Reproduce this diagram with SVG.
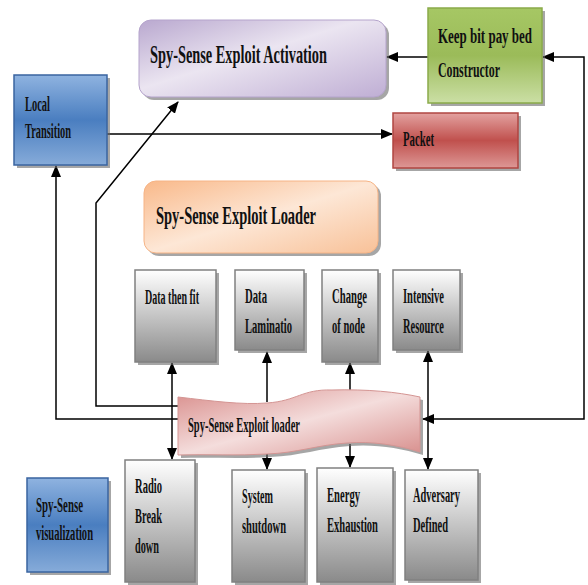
<svg xmlns="http://www.w3.org/2000/svg" width="588" height="585" viewBox="0 0 588 585">
<defs>
<style>
.t{font-family:"Liberation Serif","Times New Roman",serif;font-weight:bold;fill:#111}
.s20{font-size:20px}.s22{font-size:22px}.s26{font-size:26px}
.ln{fill:none;stroke:#000;stroke-width:1.5}
.sh{fill:#6b6b6b;opacity:0.6}
.gray{fill:url(#gGray);stroke:#808080;stroke-width:1.5}
</style>
<linearGradient id="gGray" x1="0" y1="0" x2="0" y2="1"><stop offset="0" stop-color="#ffffff"/><stop offset="1" stop-color="#8a8a8a"/></linearGradient>
<linearGradient id="gBlue" x1="0" y1="0" x2="0" y2="1"><stop offset="0" stop-color="#8fb3e0"/><stop offset="0.5" stop-color="#4a7ec0"/><stop offset="1" stop-color="#86abd9"/></linearGradient>
<linearGradient id="gGreen" x1="0" y1="0" x2="0" y2="1"><stop offset="0" stop-color="#a6c764"/><stop offset="0.5" stop-color="#9bbb59"/><stop offset="1" stop-color="#cbdfa5"/></linearGradient>
<linearGradient id="gRed" x1="0" y1="0" x2="0" y2="1"><stop offset="0" stop-color="#e3a2a0"/><stop offset="0.5" stop-color="#c0504d"/><stop offset="1" stop-color="#dd9896"/></linearGradient>
<linearGradient id="gPurple" x1="0" y1="0" x2="1" y2="1"><stop offset="0" stop-color="#b9a8cf"/><stop offset="0.45" stop-color="#ebe5f1"/><stop offset="1" stop-color="#bfaed4"/></linearGradient>
<linearGradient id="gOrange" x1="0" y1="0" x2="1" y2="1"><stop offset="0" stop-color="#f9b98a"/><stop offset="0.5" stop-color="#fde7d6"/><stop offset="1" stop-color="#f8c198"/></linearGradient>
<linearGradient id="gPink" x1="0" y1="0" x2="1" y2="1"><stop offset="0" stop-color="#d98e8c"/><stop offset="0.5" stop-color="#f4dddc"/><stop offset="1" stop-color="#d88f8d"/></linearGradient>
<marker id="ah" viewBox="0 0 12 10" refX="11" refY="5" markerWidth="12" markerHeight="10" markerUnits="userSpaceOnUse" orient="auto-start-reverse"><path d="M0,0 L12,5 L0,10 Z" fill="#000"/></marker>
</defs>

<g id="connectors">
<line class="ln" x1="107" y1="134" x2="392" y2="134" stroke-width="2" marker-end="url(#ah)"/>
<line class="ln" x1="428" y1="57" x2="387" y2="57" marker-end="url(#ah)"/>
<path class="ln" d="M423,419 H584 V57 H543" marker-start="url(#ah)" marker-end="url(#ah)"/>
<path class="ln" d="M180,419 H56 V166" marker-end="url(#ah)"/>
<path class="ln" d="M180,406 H96 V203 L178,102" marker-end="url(#ah)"/>
<line class="ln" x1="172" y1="363" x2="172" y2="459" marker-start="url(#ah)" marker-end="url(#ah)"/>
<line class="ln" x1="267" y1="402" x2="267" y2="352" marker-end="url(#ah)"/>
<line class="ln" x1="267" y1="451" x2="267" y2="469" marker-end="url(#ah)"/>
<line class="ln" x1="350" y1="391" x2="350" y2="363" marker-end="url(#ah)"/>
<line class="ln" x1="350" y1="444" x2="350" y2="467" marker-end="url(#ah)"/>
<line class="ln" x1="428" y1="351" x2="428" y2="469" marker-start="url(#ah)" marker-end="url(#ah)"/>
</g>

<g id="activation">
<rect class="sh" x="142" y="23" width="247" height="77" rx="12"/>
<rect x="139" y="20" width="247" height="77" rx="12" fill="url(#gPurple)" stroke="#b5a4cc" stroke-width="1"/>
<text class="t s26" transform="translate(150,63) scale(0.54,1)" textLength="327.8" lengthAdjust="spacingAndGlyphs">Spy-Sense Exploit Activation</text>
</g>

<g id="keepbit">
<rect class="sh" x="431" y="11" width="114" height="95"/>
<rect x="428" y="8" width="114" height="95" fill="url(#gGreen)" stroke="#8aab4a" stroke-width="1.5"/>
<text class="t s22" transform="translate(438,43) scale(0.54,1)" textLength="174.1" lengthAdjust="spacingAndGlyphs">Keep bit pay bed</text>
<text class="t s22" transform="translate(438,77) scale(0.54,1)" textLength="114.8" lengthAdjust="spacingAndGlyphs">Constructor</text>
</g>

<g id="local">
<rect class="sh" x="17" y="78" width="93" height="90"/>
<rect x="14" y="75" width="93" height="90" fill="url(#gBlue)" stroke="#3a64a0" stroke-width="1.5"/>
<text class="t s20" transform="translate(25,111) scale(0.54,1)" textLength="46.3" lengthAdjust="spacingAndGlyphs">Local</text>
<text class="t s20" transform="translate(25,138) scale(0.54,1)" textLength="85.2" lengthAdjust="spacingAndGlyphs">Transition</text>
</g>

<g id="packet">
<rect class="sh" x="396" y="116" width="125" height="55"/>
<rect x="393" y="113" width="125" height="55" fill="url(#gRed)" stroke="#b04541" stroke-width="1.5"/>
<text class="t s22" transform="translate(403,146) scale(0.54,1)" textLength="57.4" lengthAdjust="spacingAndGlyphs">Packet</text>
</g>

<g id="loaderTitle">
<rect class="sh" x="147" y="184" width="234" height="72" rx="12" opacity="0.4"/>
<rect x="144" y="181" width="234" height="72" rx="12" fill="url(#gOrange)" stroke="#f6b486" stroke-width="1"/>
<text class="t s26" transform="translate(156,224) scale(0.54,1)" textLength="296.3" lengthAdjust="spacingAndGlyphs">Spy-Sense Exploit Loader</text>
</g>

<g id="datafit">
<rect class="sh" x="138" y="273" width="81" height="92"/>
<rect class="gray" x="135" y="270" width="81" height="92"/>
<text class="t s20" transform="translate(145,304) scale(0.54,1)" textLength="100" lengthAdjust="spacingAndGlyphs">Data then fit</text>
</g>

<g id="lamination">
<rect class="sh" x="238" y="273" width="69" height="80"/>
<rect class="gray" x="235" y="270" width="69" height="80"/>
<text class="t s20" transform="translate(245,303) scale(0.54,1)" textLength="40.7" lengthAdjust="spacingAndGlyphs">Data</text>
<text class="t s20" transform="translate(245,333) scale(0.54,1)" textLength="87" lengthAdjust="spacingAndGlyphs">Laminatio</text>
</g>

<g id="changenode">
<rect class="sh" x="325" y="273" width="56" height="92"/>
<rect class="gray" x="322" y="270" width="56" height="92"/>
<text class="t s20" transform="translate(332,303) scale(0.54,1)" textLength="64.8" lengthAdjust="spacingAndGlyphs">Change</text>
<text class="t s20" transform="translate(332,333) scale(0.54,1)" textLength="61.1" lengthAdjust="spacingAndGlyphs">of node</text>
</g>

<g id="intensive">
<rect class="sh" x="396" y="273" width="67" height="80"/>
<rect class="gray" x="393" y="270" width="67" height="80"/>
<text class="t s20" transform="translate(403,303) scale(0.54,1)" textLength="75.9" lengthAdjust="spacingAndGlyphs">Intensive</text>
<text class="t s20" transform="translate(403,333) scale(0.54,1)" textLength="75.9" lengthAdjust="spacingAndGlyphs">Resource</text>
</g>

<g id="loaderWave">
<path d="M181,400 C215,404 245,408 270,406 C300,404 305,392 335,393 C370,392 400,395 423,400 L423,455 C400,448 375,444 350,446 C320,448 300,456 270,457 C240,459 210,457 181,458 Z" class="sh" opacity="0.35"/>
<path d="M178,397 C212,401 242,405 267,403 C297,401 302,389 332,390 C367,389 397,392 420,397 L420,452 C397,445 372,441 347,443 C317,445 297,453 267,454 C237,456 207,454 178,455 Z" fill="url(#gPink)" stroke="#d49593" stroke-width="1"/>
<text class="t s22" transform="translate(188,432) scale(0.54,1)" textLength="207.4" lengthAdjust="spacingAndGlyphs">Spy-Sense Exploit loader</text>
</g>

<g id="radio">
<rect class="sh" x="128" y="463" width="70" height="122"/>
<rect class="gray" x="125" y="460" width="70" height="122"/>
<text class="t s20" transform="translate(135,493) scale(0.54,1)" textLength="50" lengthAdjust="spacingAndGlyphs">Radio</text>
<text class="t s20" transform="translate(135,523) scale(0.54,1)" textLength="50" lengthAdjust="spacingAndGlyphs">Break</text>
<text class="t s20" transform="translate(135,553) scale(0.54,1)" textLength="44.4" lengthAdjust="spacingAndGlyphs">down</text>
</g>

<g id="shutdown">
<rect class="sh" x="235" y="473" width="73" height="112"/>
<rect class="gray" x="232" y="470" width="73" height="112"/>
<text class="t s20" transform="translate(242,503) scale(0.54,1)" textLength="57.4" lengthAdjust="spacingAndGlyphs">System</text>
<text class="t s20" transform="translate(242,533) scale(0.54,1)" textLength="81.5" lengthAdjust="spacingAndGlyphs">shutdown</text>
</g>

<g id="energy">
<rect class="sh" x="320" y="471" width="76" height="114"/>
<rect class="gray" x="317" y="468" width="76" height="114"/>
<text class="t s20" transform="translate(327,502) scale(0.54,1)" textLength="61.1" lengthAdjust="spacingAndGlyphs">Energy</text>
<text class="t s20" transform="translate(327,532) scale(0.54,1)" textLength="94.4" lengthAdjust="spacingAndGlyphs">Exhaustion</text>
</g>

<g id="adversary">
<rect class="sh" x="408" y="473" width="73" height="110"/>
<rect class="gray" x="405" y="470" width="73" height="110"/>
<text class="t s20" transform="translate(413,502) scale(0.54,1)" textLength="87" lengthAdjust="spacingAndGlyphs">Adversary</text>
<text class="t s20" transform="translate(413,532) scale(0.54,1)" textLength="64.8" lengthAdjust="spacingAndGlyphs">Defined</text>
</g>

<g id="visualization">
<rect class="sh" x="30" y="481" width="81" height="94"/>
<rect x="27" y="478" width="81" height="94" fill="url(#gBlue)" stroke="#3a64a0" stroke-width="1.5"/>
<text class="t s20" transform="translate(36,512) scale(0.54,1)" textLength="87" lengthAdjust="spacingAndGlyphs">Spy-Sense</text>
<text class="t s20" transform="translate(36,540) scale(0.54,1)" textLength="105.6" lengthAdjust="spacingAndGlyphs">visualization</text>
</g>
</svg>
